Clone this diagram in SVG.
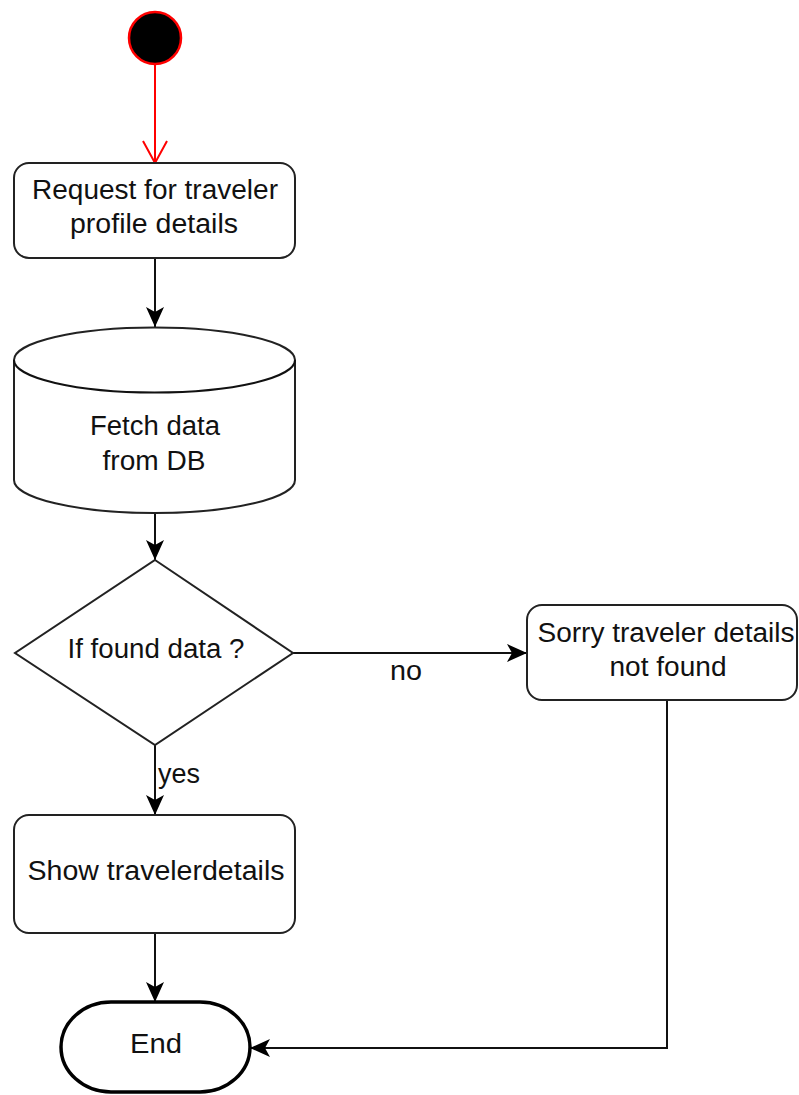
<svg xmlns="http://www.w3.org/2000/svg" width="799" height="1095" viewBox="0 0 799 1095">
  <style>
    .shape { fill: #ffffff; stroke: #222222; stroke-width: 2; }
    .label { font-family: "Liberation Sans", Arial, sans-serif; font-size: 27px; fill: #111111; }
    .mid { text-anchor: middle; }
    .edge { fill: none; stroke: #111111; stroke-width: 2; }
  </style>
  <defs>
    <marker id="arrow" markerUnits="userSpaceOnUse" viewBox="0 0 20 18" refX="20" refY="9" markerWidth="20" markerHeight="18" orient="auto">
      <path d="M0,0 L20,9 L0,18 L5,9 z" fill="#000000"/>
    </marker>
    <marker id="openArrow" markerUnits="userSpaceOnUse" viewBox="0 0 24 26" refX="23" refY="13" markerWidth="24" markerHeight="26" orient="auto">
      <path d="M1,1 L23,13 L1,25" fill="none" stroke="#ff0000" stroke-width="2"/>
    </marker>
  </defs>

  <g id="connectors">
    <line x1="155" y1="65" x2="155" y2="163" stroke="#ff0000" stroke-width="2" marker-end="url(#openArrow)"/>
    <line class="edge" x1="155" y1="258" x2="155" y2="327" marker-end="url(#arrow)"/>
    <line class="edge" x1="155" y1="513" x2="155" y2="560" marker-end="url(#arrow)"/>
    <line class="edge" x1="155" y1="745" x2="155" y2="815" marker-end="url(#arrow)"/>
    <line class="edge" x1="155" y1="933" x2="155" y2="1002" marker-end="url(#arrow)"/>
    <line class="edge" x1="293" y1="653" x2="527" y2="653" marker-end="url(#arrow)"/>
    <polyline class="edge" points="667,700 667,1048 250,1048" marker-end="url(#arrow)"/>
    <text class="label" x="390" y="680" textLength="32" lengthAdjust="spacingAndGlyphs">no</text>
    <text class="label" x="158" y="783" textLength="42" lengthAdjust="spacingAndGlyphs">yes</text>
  </g>

  <g id="start">
    <circle cx="155" cy="38" r="26" fill="#000000" stroke="#ff0000" stroke-width="2.5"/>
  </g>

  <g id="request">
    <rect class="shape" x="14" y="163" width="281" height="95" rx="15" ry="15"/>
    <text class="label mid" x="155" y="199" textLength="246" lengthAdjust="spacingAndGlyphs">Request for traveler</text>
    <text class="label mid" x="154" y="233" textLength="168" lengthAdjust="spacingAndGlyphs">profile details</text>
  </g>

  <g id="fetch">
    <path class="shape" d="M14,360 A140.5,32.5 0 0 1 295,360 L295,480 A140.5,33 0 0 1 14,480 Z"/>
    <path class="edge" d="M14,360 A140.5,32.5 0 0 0 295,360" stroke="#222222"/>
    <text class="label mid" x="155" y="435" textLength="130" lengthAdjust="spacingAndGlyphs">Fetch data</text>
    <text class="label mid" x="154" y="470" textLength="103" lengthAdjust="spacingAndGlyphs">from DB</text>
  </g>

  <g id="decision">
    <polygon class="shape" points="155,560 293,653 155,745 15,653"/>
    <text class="label mid" x="156" y="658" textLength="177" lengthAdjust="spacingAndGlyphs">If found data ?</text>
  </g>

  <g id="notFound">
    <rect class="shape" x="527" y="605" width="270" height="95" rx="15" ry="15"/>
    <text class="label mid" x="666" y="642" textLength="257" lengthAdjust="spacingAndGlyphs">Sorry traveler details</text>
    <text class="label mid" x="668" y="676" textLength="117" lengthAdjust="spacingAndGlyphs">not found</text>
  </g>

  <g id="show">
    <rect class="shape" x="14" y="815" width="281" height="118" rx="15" ry="15"/>
    <text class="label mid" x="156" y="880" textLength="257" lengthAdjust="spacingAndGlyphs">Show travelerdetails</text>
  </g>

  <g id="end">
    <rect x="61" y="1002" width="189" height="90" rx="50" ry="45" fill="#ffffff" stroke="#000000" stroke-width="3.5"/>
    <text class="label mid" x="156" y="1053" textLength="52" lengthAdjust="spacingAndGlyphs">End</text>
  </g>
</svg>
